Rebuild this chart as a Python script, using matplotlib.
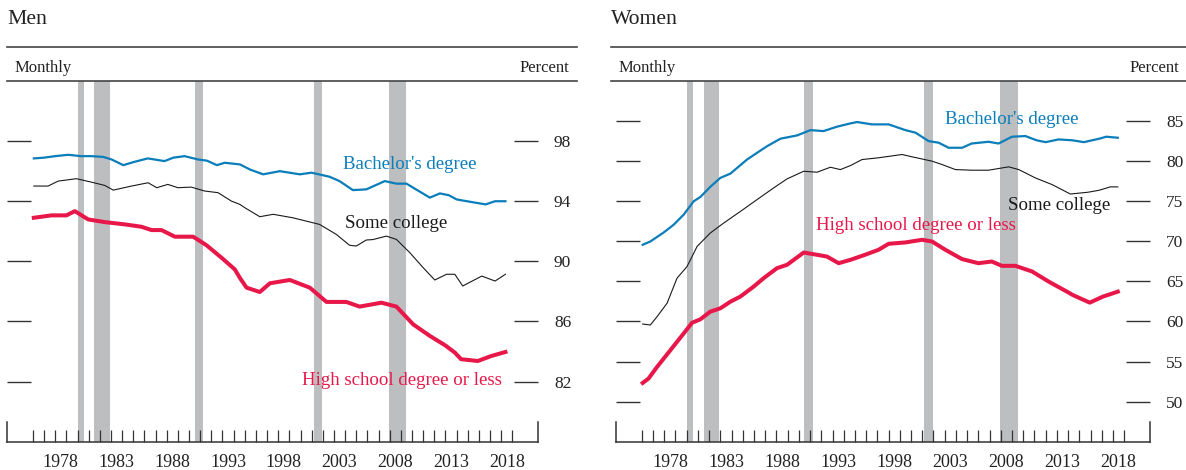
import matplotlib
matplotlib.use("Agg")
import matplotlib.pyplot as plt
from matplotlib.lines import Line2D

plt.rcParams['font.family'] = ['Liberation Serif', 'DejaVu Serif']

# ---------------- data (decimal years, percent) ----------------
men_ba_x = [1976.08, 1977.0, 1978.0, 1979.16, 1980.3, 1981.25, 1982.3, 1983.05, 1984.1, 1985.0,
            1986.3, 1987.8, 1988.6, 1989.6, 1990.8, 1991.6, 1992.5, 1993.2, 1994.56, 1995.5,
            1996.65, 1998.14, 1999.94, 2000.99, 2002.6, 2003.5, 2004.7, 2005.9, 2007.56, 2008.6,
            2009.5, 2010.85, 2011.6, 2012.5, 2013.3, 2014.0, 2015.4, 2016.6, 2017.45, 2018.38]
men_ba_y = [96.85, 96.9, 97.0, 97.09, 97.0, 97.0, 96.95, 96.78, 96.4, 96.6,
            96.85, 96.67, 96.9, 97.0, 96.78, 96.7, 96.4, 96.56, 96.45, 96.1,
            95.79, 96.0, 95.79, 95.9, 95.63, 95.34, 94.74, 94.79, 95.34, 95.17,
            95.17, 94.57, 94.24, 94.52, 94.4, 94.12, 93.94, 93.79, 94.0, 94.0]

men_sc_x = [1976.08, 1977.36, 1978.26, 1979.9, 1981.25, 1982.45, 1983.2, 1984.84, 1986.33, 1987.1,
            1988.1, 1989.0, 1990.2, 1991.4, 1992.6, 1993.8, 1994.56, 1995.0, 1996.35, 1997.55,
            1999.3, 2001.7, 2003.2, 2004.4, 2005.0, 2005.9, 2006.5, 2007.7, 2008.6, 2009.8,
            2011.0, 2012.04, 2013.1, 2013.84, 2014.55, 2015.4, 2016.26, 2017.45, 2018.38]
men_sc_y = [95.01, 95.01, 95.34, 95.5, 95.27, 95.05, 94.74, 95.01, 95.23, 94.9,
            95.12, 94.9, 94.94, 94.68, 94.57, 94.01, 93.79, 93.57, 92.97, 93.13,
            92.9, 92.46, 91.8, 91.07, 91.02, 91.42, 91.45, 91.68, 91.46, 90.58,
            89.58, 88.76, 89.14, 89.14, 88.36, 88.69, 89.02, 88.69, 89.14]

men_hs_x = [1976.08, 1977.67, 1979.0, 1979.76, 1980.95, 1982.45, 1984.24, 1985.74, 1986.64, 1987.53,
            1988.73, 1990.37, 1991.57, 1992.9, 1994.1, 1994.56, 1995.16, 1996.35, 1997.25, 1999.04,
            2000.83, 2002.33, 2004.1, 2005.3, 2007.26, 2008.6, 2010.1, 2011.6, 2013.0, 2013.84,
            2014.4, 2015.9, 2017.1, 2018.38]
men_hs_y = [92.9, 93.06, 93.06, 93.34, 92.79, 92.61, 92.46, 92.3, 92.08, 92.08,
            91.64, 91.64, 91.07, 90.25, 89.47, 88.9, 88.25, 87.96, 88.54, 88.76,
            88.25, 87.3, 87.3, 86.99, 87.25, 86.99, 85.81, 85.04, 84.4, 83.93,
            83.49, 83.37, 83.7, 83.97]

women_ba_x = [1976.08, 1976.76, 1977.95, 1978.84, 1979.73, 1980.62, 1981.22, 1982.1, 1983.0, 1983.9,
              1985.38, 1986.27, 1987.17, 1988.35, 1989.84, 1991.03, 1992.2, 1993.4, 1994.6, 1995.19,
              1996.5, 1998.0, 1999.5, 2000.4, 2001.57, 2002.46, 2003.35, 2004.55, 2005.4, 2006.9,
              2007.8, 2009.0, 2010.2, 2011.2, 2012.0, 2013.15, 2014.4, 2015.4, 2016.77, 2017.4, 2018.43]
women_ba_y = [69.57, 69.98, 71.1, 72.07, 73.32, 74.99, 75.53, 76.79, 77.91, 78.45,
              80.2, 81.04, 81.87, 82.8, 83.21, 83.87, 83.75, 84.3, 84.71, 84.88,
              84.59, 84.59, 83.87, 83.55, 82.5, 82.3, 81.67, 81.67, 82.2, 82.42,
              82.2, 83.05, 83.13, 82.6, 82.37, 82.71, 82.6, 82.37, 82.8, 83.05, 82.92]

women_sc_x = [1976.08, 1976.76, 1977.36, 1978.25, 1979.14, 1980.03, 1980.93, 1982.1, 1983.3, 1984.8,
              1986.27, 1987.75, 1988.95, 1990.43, 1991.62, 1992.81, 1993.7, 1994.6, 1995.63, 1997.1,
              1999.2, 2000.1, 2001.87, 2002.76, 2003.95, 2005.4, 2006.9, 2008.7, 2009.6, 2011.08,
              2012.57, 2014.2, 2015.76, 2016.77, 2017.76, 2018.43]
women_sc_y = [59.68, 59.56, 60.6, 62.27, 65.4, 66.85, 69.36, 71.03, 72.28, 73.74,
              75.2, 76.66, 77.79, 78.74, 78.62, 79.24, 78.95, 79.45, 80.2, 80.42,
              80.83, 80.54, 80.0, 79.58, 78.95, 78.87, 78.87, 79.29, 78.95, 77.91,
              77.08, 75.9, 76.12, 76.37, 76.79, 76.79]

women_hs_x = [1976.08, 1976.6, 1977.36, 1978.55, 1979.73, 1980.48, 1981.22, 1982.1, 1983.0, 1983.9,
              1984.78, 1985.97, 1986.86, 1988.05, 1988.95, 1990.43, 1991.62, 1992.5, 1993.55, 1994.6,
              1995.9, 1997.1, 1998.0, 1999.5, 2000.98, 2001.87, 2003.06, 2004.55, 2006.0, 2007.2,
              2008.1, 2009.3, 2010.8, 2012.26, 2014.05, 2014.4, 2015.93, 2017.1, 2018.43]
women_hs_y = [52.33, 52.88, 54.33, 56.42, 58.5, 59.84, 60.27, 61.22, 61.64, 62.47,
              63.1, 64.35, 65.4, 66.65, 67.07, 68.6, 68.32, 68.1, 67.27, 67.69,
              68.32, 68.94, 69.69, 69.86, 70.19, 69.98, 68.94, 67.78, 67.27, 67.48,
              66.94, 66.94, 66.23, 64.98, 63.6, 63.31, 62.35, 63.1, 63.72]

recessions = [(1980.0, 1980.58), (1981.5, 1982.92), (1990.5, 1991.25),
              (2001.17, 2001.92), (2007.92, 2009.5)]

year_labels = ['1978', '1983', '1988', '1993', '1998', '2003', '2008', '2013', '2018']
men_yticks = [82, 86, 90, 94, 98]
women_yticks = [50, 55, 60, 65, 70, 75, 80, 85]
series_names = ["Bachelor's degree", "Some college", "High school degree or less"]

# ---------------- styling ----------------
BLUE = '#0a7dbb'
RED = '#e8174a'
BLACK = '#1a1a1a'
GRAY = '#bcbec0'
W, H = 1186, 470

fig = plt.figure(figsize=(W / 100, H / 100), dpi=100)


def px_box(x0, x1, ytop, ybot):
    return [x0 / W, 1 - ybot / H, (x1 - x0) / W, (ybot - ytop) / H]


def setup(ax, ylim, yticks):
    ax.set_xlim(1973.7, 2021.3)
    ax.set_ylim(*ylim)
    for s in ['top', 'left', 'right']:
        ax.spines[s].set_visible(False)
    ax.spines['bottom'].set_color('#333333')
    ax.spines['bottom'].set_linewidth(1.1)
    for a, b in recessions:
        ax.axvspan(a, b, color=GRAY, lw=0, zorder=0)
    ax.yaxis.set_ticks_position('both')
    ax.set_yticks(yticks)
    ax.set_yticklabels([str(t) for t in yticks])
    ax.tick_params(axis='y', direction='in', length=17, width=1.0, color='#333333',
                   labelleft=False, labelright=True, pad=11.5, labelsize=12.5,
                   labelcolor='#222222')
    ax.set_xticks([y for y in range(1976, 2020)], minor=True)
    ax.set_xticks([int(l) + 0.5 for l in year_labels])
    ax.set_xticklabels(year_labels)
    ax.tick_params(axis='x', which='minor', direction='in', length=8.4, width=0.9,
                   color='#333333')
    ax.tick_params(axis='x', which='major', length=0, pad=9, labelsize=13,
                   labelcolor='#222222')
    for xe in ax.get_xlim():
        ax.axvline(xe, ymin=0, ymax=0.055, color='#333333', lw=1.1, clip_on=False)


def panel_header(title, x0, x1):
    fig.text(x0 / W, 1 - 24 / H, title, fontsize=15.6, va='baseline', ha='left', color='#222222')
    fig.add_artist(Line2D([x0 / W, x1 / W], [1 - 47 / H] * 2, color='#444444', lw=1.2))
    fig.add_artist(Line2D([x0 / W, x1 / W], [1 - 81 / H] * 2, color='#444444', lw=1.2))
    fig.text((x0 + 8) / W, 1 - 72 / H, 'Monthly', fontsize=12, va='baseline', ha='left',
             color='#222222')
    fig.text((x1 - 7) / W, 1 - 72 / H, 'Percent', fontsize=12, va='baseline', ha='right',
             color='#222222')


# ---------------- Men ----------------
ax1 = fig.add_axes(px_box(7.3, 538, 81, 441.7))
setup(ax1, (78, 102), men_yticks)
ax1.plot(men_ba_x, men_ba_y, color=BLUE, lw=1.6, zorder=3)
ax1.plot(men_sc_x, men_sc_y, color=BLACK, lw=0.8, zorder=3)
ax1.plot(men_hs_x, men_hs_y, color=RED, lw=2.9, zorder=3)
ax1.text(2003.8, 96.45, series_names[0], color=BLUE, fontsize=13.6, va='center', ha='left')
ax1.text(2004.0, 92.5, series_names[1], color=BLACK, fontsize=13.6, va='center', ha='left')
ax1.text(2018.1, 82.06, series_names[2], color=RED, fontsize=13.6, va='center', ha='right')
panel_header('Men', 6.9, 576.5)

# ---------------- Women ----------------
ax2 = fig.add_axes(px_box(616, 1150, 81, 441.7))
setup(ax2, (45, 90), women_yticks)
ax2.plot(women_ba_x, women_ba_y, color=BLUE, lw=1.6, zorder=3)
ax2.plot(women_sc_x, women_sc_y, color=BLACK, lw=0.8, zorder=3)
ax2.plot(women_hs_x, women_hs_y, color=RED, lw=2.9, zorder=3)
ax2.text(2003.05, 85.2, series_names[0], color=BLUE, fontsize=13.6, va='center', ha='left')
ax2.text(2008.65, 74.45, series_names[1], color=BLACK, fontsize=13.6, va='center', ha='left')
ax2.text(1991.5, 72.0, series_names[2], color=RED, fontsize=13.6, va='center', ha='left')
panel_header('Women', 611, 1186)

fig.savefig('out.png', dpi=100)
